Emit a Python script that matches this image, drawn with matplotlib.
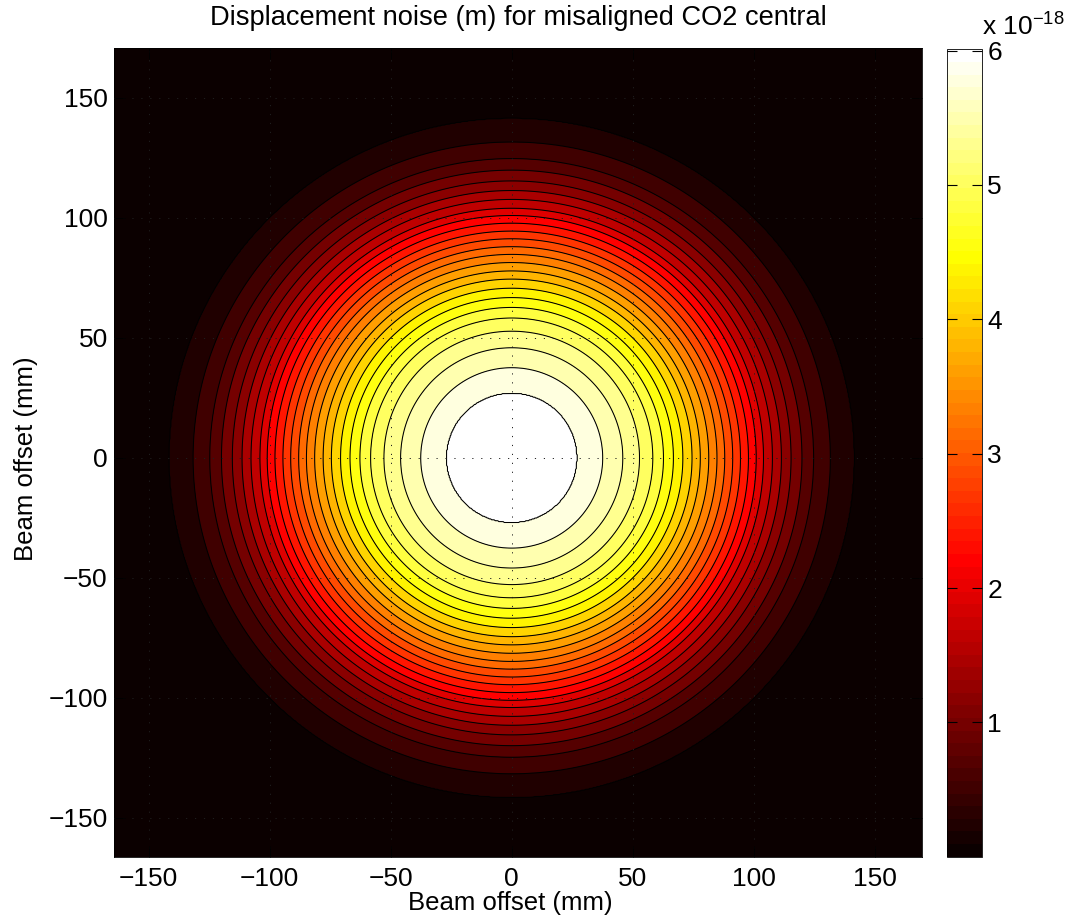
import numpy as np
import matplotlib
matplotlib.use("Agg")
import matplotlib.pyplot as plt
from matplotlib.colors import Normalize
from matplotlib.cm import ScalarMappable

plt.rcParams['font.family'] = ['Liberation Sans', 'DejaVu Sans']
plt.rcParams['mathtext.fontset'] = 'custom'
plt.rcParams['mathtext.rm'] = 'Liberation Sans'
plt.rcParams['mathtext.default'] = 'regular'

ring_radius = [27.1, 37.6, 45.9, 52.8, 58.3, 62.7, 66.8, 70.7, 74.5, 77.9, 81.4, 84.8, 88.0,
               91.3, 94.5, 97.8, 101.0, 104.0, 107.7, 111.4, 115.4, 119.9, 124.7, 131.6, 141.4]
ring_level = [6.00, 5.76, 5.52, 5.28, 5.04, 4.80, 4.56, 4.32, 4.08, 3.84, 3.60, 3.36, 3.12,
              2.88, 2.64, 2.40, 2.16, 1.92, 1.68, 1.44, 1.20, 0.96, 0.72, 0.48, 0.24]
peak_noise = 6.01
edge_noise = 0.0
cbar_max = 6.01
ticks = [-150, -100, -50, 0, 50, 100, 150]
cbar_ticks = [1, 2, 3, 4, 5, 6]

x = np.linspace(-165, 170, 901)
y = np.linspace(-167, 171, 901)
X, Y = np.meshgrid(x, y)
R = np.hypot(X, Y)
prof_r = [0.0] + ring_radius + [260.0]
prof_v = [peak_noise] + ring_level + [edge_noise]
Z = np.interp(R, prof_r, prof_v)

cmap = matplotlib.colormaps['hot'].resampled(64)
lev = sorted(ring_level)
fill_levels = [-1.0] + lev + [10.0]
fill_colors = [cmap(v / cbar_max) for v in [0.0] + lev]

fig = plt.figure(figsize=(10.73, 9.24), dpi=100)
ax = fig.add_axes([114/1073, 1 - 857/924, 808/1073, 809/924])
ax.set_facecolor('black')
ax.contourf(X, Y, Z, levels=fill_levels, colors=fill_colors, antialiased=True)
ax.contour(X, Y, Z, levels=lev, colors='k', linewidths=0.75)
ax.set_xlim(-164.3, 169.5)
ax.set_ylim(-166.3, 170.8)
ax.set_xticks(ticks)
ax.set_yticks(ticks)
ax.set_xticklabels([str(t).replace('-', '\u2212') for t in ticks])
ax.set_yticklabels([str(t).replace('-', '\u2212') for t in ticks])
ax.grid(True, color='0.12', linestyle=(0, (1.2, 8)), linewidth=0.7)
ax.set_axisbelow(False)
ax.tick_params(direction='in', length=8, width=0.6, top=True, right=True, labelsize=19)
ax.tick_params(axis='x', pad=7)
ax.tick_params(axis='y', pad=4.5)
for s in ax.spines.values():
    s.set_color('black')
    s.set_linewidth(0.6)

ax.set_title('Displacement noise (m) for misaligned CO2 central', fontsize=19.6, pad=16.5)
ax.set_xlabel('Beam offset (mm)', fontsize=18.5)
ax.set_ylabel('Beam offset (mm)', fontsize=18.5)
ax.xaxis.set_label_coords(0.49, -0.042)
ax.yaxis.set_label_coords(-0.094, 0.492)

cax = fig.add_axes([947.3/1073, 1 - 856.7/924, 34.4/1073, 807.4/924])
cb = fig.colorbar(ScalarMappable(norm=Normalize(0, cbar_max), cmap=cmap), cax=cax)
cb.set_ticks(cbar_ticks)
cb.outline.set_linewidth(0.6)
cax.tick_params(direction='in', left=True, right=True, length=7, width=0.8, labelsize=19, pad=4)
fig.text(982/1073, 1 - 36/924, r'x 10$^{-18}$', fontsize=19, ha='left', va='baseline')

fig.savefig('out.png', dpi=100)
